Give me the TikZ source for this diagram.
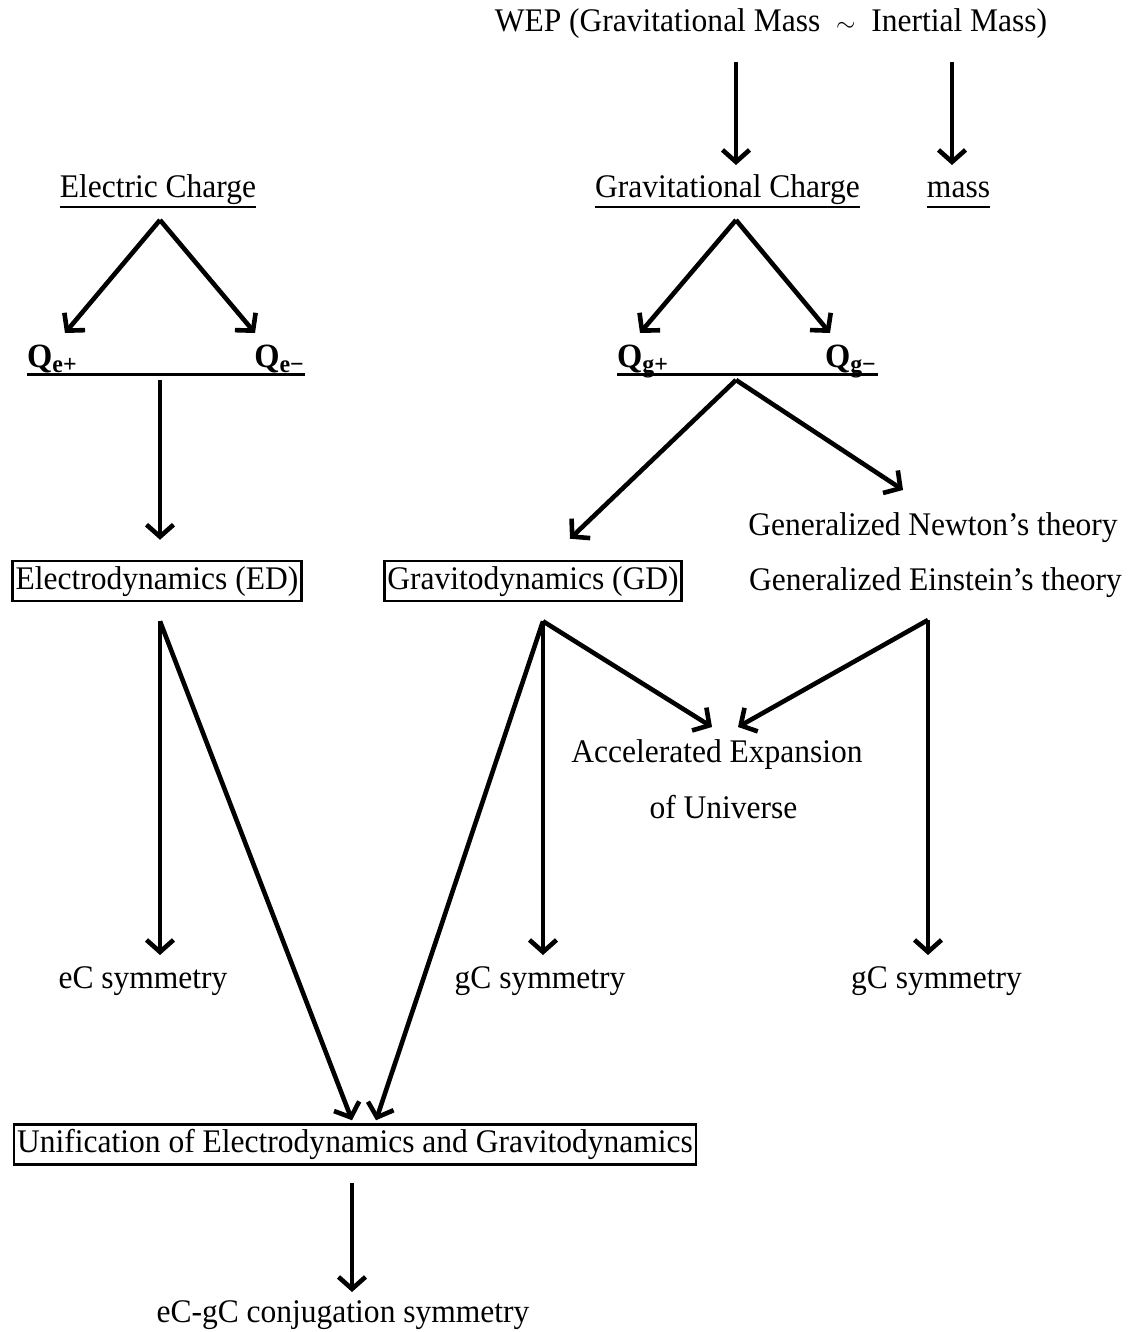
\documentclass[tikz,border=0pt]{standalone}
\usepackage{fontspec}
\setmainfont{Liberation Serif}[FakeStretch=0.955]
\usetikzlibrary{arrows.meta,calc}
\newcommand{\qsub}[1]{\raisebox{-5pt}{\fontsize{25}{28}\selectfont\bfseries #1}}
\tikzset{
  txt/.style={inner sep=0pt, anchor=base, font=\fontsize{33}{38}\selectfont},
  qlab/.style={inner sep=0pt, font=\fontsize{34}{38}\selectfont\bfseries},
  boxed/.style={draw, line width=2.5pt, inner xsep=3pt, inner ysep=4.5pt,
    text height=23.5pt, text depth=7.5pt, font=\fontsize{33}{38}\selectfont},
  arr/.style={line width=4.6pt, -{Straight Barb[length=12pt,width=27pt]}},
  ul/.style={line width=2.7pt},
  ql/.style={line width=3pt}
}
\begin{document}
\begin{tikzpicture}[x=1pt,y=-1pt]
\useasboundingbox (0,0) rectangle (1133,1332);
% top
\node[txt] (wep) at (771,32) {WEP (Gravitational Mass~~$\sim$~~Inertial Mass)};
\node[txt] (gc) at (727.5,198) {Gravitational Charge};
\node[txt] (mass) at (958.5,198) {mass};
\node[txt] (ec) at (158,198) {Electric Charge};
\draw[ul] ([yshift=-9pt]ec.base west) -- ([yshift=-9pt]ec.base east);
\draw[ul] ([yshift=-9pt]gc.base west) -- ([yshift=-9pt]gc.base east);
\draw[ul] ([yshift=-9pt]mass.base west) -- ([yshift=-9pt]mass.base east);
% Q labels
\node[qlab, anchor=base west] (qep) at (27,367) {Q\qsub{e+}};
\node[qlab, anchor=base east] (qem) at (304,367) {Q\qsub{e−}};
\node[qlab, anchor=base west] (qgp) at (617,367) {Q\qsub{g+}};
\node[qlab, anchor=base east] (qgm) at (876,367) {Q\qsub{g−}};
\draw[ql] ($(qep.base west)+(0,7)$) -- ($(qem.base east)+(1,7)$);
\draw[ql] ($(qgp.base west)+(0,7)$) -- ($(qgm.base east)+(2,7)$);
% middle
\node[boxed] (ed) at (157,581) {Electrodynamics (ED)};
\node[boxed] (gd) at (533,581) {Gravitodynamics (GD)};
\node[txt] (newton) at (933,535) {Generalized Newton’s theory};
\node[txt] (einstein) at (935.5,590) {Generalized Einstein’s theory};
\node[txt] (acc) at (717,762) {Accelerated Expansion};
\node[txt] (univ) at (723.5,818) {of Universe};
\node[txt] (ecs) at (143,988) {eC symmetry};
\node[txt] (gcs1) at (540,988) {gC symmetry};
\node[txt] (gcs2) at (936.5,988) {gC symmetry};
\node[boxed] (un) at (355,1144.5) {Unification of Electrodynamics and Gravitodynamics};
\node[txt] (conj) at (343,1322) {eC-gC conjugation symmetry};
% arrows
\draw[arr] ($(wep.base)+(-35,30)$) -- ($(gc.base)+(8.5,-33)$);
\draw[arr] ($(wep.base)+(181,30)$) -- ($(mass.base)+(-6.5,-33)$);
\draw[arr] ($(ec.base)+(2,22)$) -- ($(qep.base west)+(38,-34)$);
\draw[arr] ($(ec.base)+(2,22)$) -- ($(qem.base east)+(-49,-34)$);
\draw[arr] ($(gc.base)+(8.5,22)$) -- ($(qgp.base west)+(23,-34)$);
\draw[arr] ($(gc.base)+(8.5,22)$) -- ($(qgm.base east)+(-46,-34)$);
\draw[arr] ($(qep.base west)!0.5!(qem.base east)+(-5.5,13)$) -- ($(ed.north)+(3,-20)$);
\draw[arr] ($(qgp.base west)!0.5!(qgm.base east)+(-10.5,13)$) -- ($(gd.north)+(37,-21)$);
\draw[arr] ($(qgp.base west)!0.5!(qgm.base east)+(-10.5,13)$) -- ($(newton.base)+(-30,-45)$);
\draw[arr] ($(ed.south)+(3,19)$) -- ($(ecs.base)+(17,-33)$);
\draw[arr] ($(ed.south)+(3,19)$) -- ($(un.north)+(-3,-3)$);
\draw[arr] ($(gd.south)+(10,19)$) -- ($(un.north)+(21,-3)$);
\draw[arr] ($(gd.south)+(10,19)$) -- ($(gcs1.base)+(3,-33)$);
\draw[arr] ($(gd.south)+(10,19)$) -- ($(acc.base)+(-5,-35)$);
\draw[arr] ($(einstein.base)+(-7.5,30)$) -- ($(acc.base)+(21,-35)$);
\draw[arr] ($(einstein.base)+(-7.5,30)$) -- ($(gcs2.base)+(-8.5,-33)$);
\draw[arr] ($(un.south)+(-3,17)$) -- ($(conj.base)+(9,-30)$);
\end{tikzpicture}
\end{document}
